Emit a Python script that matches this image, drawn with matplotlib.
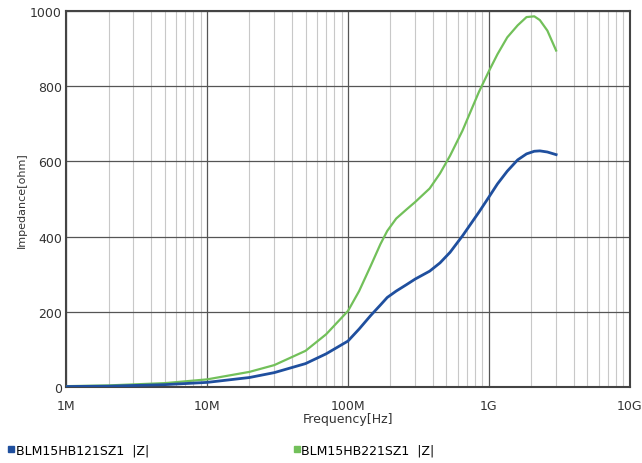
import numpy as np
import matplotlib.pyplot as plt
from matplotlib.lines import Line2D
from matplotlib.ticker import FixedLocator, LogLocator, NullFormatter

# frequency points (Hz)
freq = [1e6, 2e6, 5e6, 1e7, 2e7, 3e7, 5e7, 7e7, 1e8, 1.2e8, 1.45e8, 1.7e8,
        1.9e8, 2.2e8, 2.6e8, 3e8, 3.8e8, 4.5e8, 5.3e8, 6.5e8, 8.5e8, 1e9,
        1.15e9, 1.35e9, 1.6e9, 1.85e9, 2.1e9, 2.3e9, 2.6e9, 3e9]
z_121 = [1, 2, 6, 12, 25, 38, 62, 88, 122, 154, 190, 218,
         238, 255, 272, 287, 308, 330, 358, 402, 465, 505,
         540, 574, 604, 620, 627, 628, 625, 618]
z_221 = [2, 4, 10, 20, 40, 58, 96, 140, 202, 255, 322, 380,
         415, 448, 472, 492, 528, 568, 615, 682, 785, 840,
         885, 930, 962, 984, 986, 976, 948, 895]

xticks = [1e6, 1e7, 1e8, 1e9, 1e10]
xlabels = ['1M', '10M', '100M', '1G', '10G']
yticks = [0, 200, 400, 600, 800, 1000]
names = ['BLM15HB121SZ1  |Z|', 'BLM15HB221SZ1  |Z|']
colors = ['#1f4f9e', '#72c05a']

plt.rcParams['font.family'] = ['Liberation Sans Narrow', 'DejaVu Sans']

fig = plt.figure(figsize=(6.42, 4.64), dpi=100)
ax = fig.add_axes([0.103, 0.164, 0.878, 0.810])

ax.plot(freq, z_221, color=colors[1], lw=1.6, zorder=3)
ax.plot(freq, z_121, color=colors[0], lw=2.0, zorder=4)

ax.set_xscale('log')
ax.set_xlim(1e6, 1e10)
ax.set_ylim(0, 1000)
ax.xaxis.set_major_locator(FixedLocator(xticks))
ax.set_xticklabels(xlabels)
ax.xaxis.set_minor_locator(LogLocator(base=10, subs=np.arange(2, 10)))
ax.xaxis.set_minor_formatter(NullFormatter())
ax.set_yticks(yticks)

ax.grid(which='major', color='#555555', lw=0.9)
ax.grid(which='minor', axis='x', color='#c8c8c8', lw=0.8)
ax.set_axisbelow(True)
ax.tick_params(which='both', length=0, labelsize=9, colors='#333333')
ax.tick_params(axis='x', pad=9)
ax.tick_params(axis='y', pad=3)
for s in ax.spines.values():
    s.set_color('#444444')
    s.set_linewidth(1.5)

ax.set_xlabel('Frequency[Hz]', fontsize=9, color='#333333', labelpad=0)
ax.set_ylabel('Impedance[ohm]', fontsize=8, color='#333333', labelpad=2)

h1 = Line2D([], [], color=colors[0], marker='s', ms=5, ls='none')
h2 = Line2D([], [], color=colors[1], marker='s', ms=5, ls='none')
fig.legend([h1], [names[0]], loc='lower left', bbox_to_anchor=(-0.005, -0.01),
           frameon=False, fontsize=9, handlelength=0.5, handletextpad=0.1)
fig.legend([h2], [names[1]], loc='lower left', bbox_to_anchor=(0.44, -0.01),
           frameon=False, fontsize=9, handlelength=0.5, handletextpad=0.1)

fig.savefig('out.png', dpi=100)
